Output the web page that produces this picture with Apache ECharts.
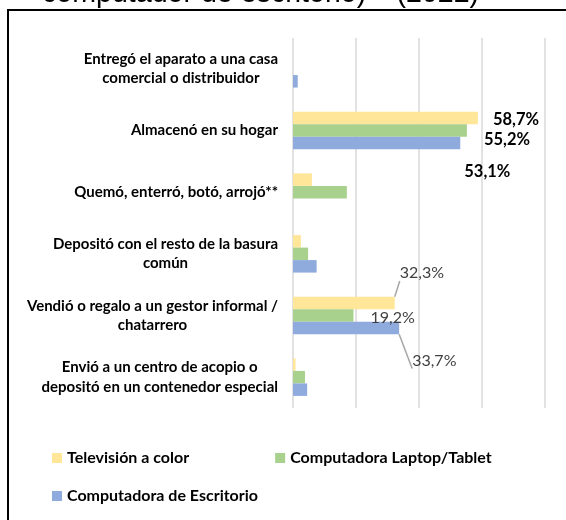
<!DOCTYPE html>
<html>
<head>
<meta charset="utf-8">
<script src="https://cdn.jsdelivr.net/npm/echarts@6/dist/echarts.min.js"></script>
<style>
  html, body { margin: 0; padding: 0; background: #fff; }
  #chart { width: 566px; height: 520px; }
</style>
</head>
<body>
<div id="chart"></div>
<script>
// data (percent)
var categories = [
  'Entregó el aparato a una casa\ncomercial o distribuidor',
  'Almacenó en su hogar',
  'Quemó, enterró, botó, arrojó**',
  'Depositó con el resto de la basura\ncomún',
  'Vendió o regalo a un gestor informal /\nchatarrero',
  'Envió a un centro de acopio o\ndepositó en un contenedor especial'
];
var seriesNames = ['Televisión a color', 'Computadora Laptop/Tablet', 'Computadora de Escritorio'];
var tvValues = [0, 58.7, 6.0, 2.5, 32.3, 0.8];
var laptopValues = [0, 55.2, 17.1, 4.8, 19.2, 3.8];
var desktopValues = [1.5, 53.1, 0, 7.5, 33.7, 4.5];
var xTicks = [0, 20, 40, 60, 80];

var colors = ['#FFE699', '#A9D18E', '#8FAADC'];
var titleText = 'computador de escritorio)** (2022)';

function pct(v) {
  return v.toFixed(1).replace('.', ',') + '%';
}

// which bars carry a label, and how they sit (copied from the original layout)
var boldIdx = 1, leaderIdx = 4;
var boldOffsets = [[10, 2], [12, 9.5], [-1, 29]];
var leaderOffsets = [[0, -30], [12, 2.5], [8, 32.5]];
var leaderShown = [true, false, true];

function buildData(values, s) {
  return values.map(function (v, i) {
    if (i === boldIdx) {
      return {
        value: v,
        label: {
          show: true, position: 'right', offset: boldOffsets[s],
          fontFamily: 'Lato', fontWeight: 'bold', fontSize: 16.5, color: '#000'
        }
      };
    }
    if (i === leaderIdx) {
      return {
        value: v,
        label: {
          show: true, position: 'right', offset: leaderOffsets[s],
          fontFamily: 'Lato', fontSize: 16, color: '#404040'
        },
        labelLine: {
          show: leaderShown[s],
          lineStyle: { color: '#A6A6A6', width: 1.5 }
        }
      };
    }
    return v;
  });
}

var allValues = [tvValues, laptopValues, desktopValues];

// category labels: block right aligned to the axis, lines centred inside it
var catFontSize = 15;
var measureCtx = document.createElement('canvas').getContext('2d');
measureCtx.font = 'bold ' + catFontSize + 'px Lato';
function blockWidth(text) {
  return Math.max.apply(null, text.split('\n').map(function (line) {
    return measureCtx.measureText(line).width;
  }));
}
var categoryItems = categories.map(function (c) {
  return { value: c, textStyle: { align: 'center', padding: [0, blockWidth(c), 0, 0] } };
});

var chartDom = document.getElementById('chart');
var myChart = echarts.init(chartDom);
var option;
option = {
  animation: false,
  color: colors,
  graphic: [
    {
      type: 'rect',
      shape: { x: 8, y: 10, width: 700, height: 700 },
      style: { fill: 'none', stroke: '#000', lineWidth: 2 },
      silent: true
    },
    {
      type: 'text',
      x: 42,
      y: -5.5,
      style: {
        text: titleText,
        fontFamily: 'Liberation Sans, Arial',
        fontSize: 28.6,
        fill: '#000',
        verticalAlign: 'middle',
        align: 'left'
      },
      silent: true
    }
  ],
  grid: {
    left: 293,
    right: 21,
    top: 38,
    bottom: 112
  },
  legend: [
    {
      data: [seriesNames[0], seriesNames[1]],
      left: 52,
      top: 450,
      padding: 0,
      icon: 'rect',
      itemWidth: 10,
      itemHeight: 10,
      itemGap: 86,
      selectedMode: false,
      textStyle: { fontFamily: 'Lato', fontWeight: 'bold', fontSize: 16, color: '#000' }
    },
    {
      data: [seriesNames[2]],
      left: 52,
      top: 488,
      padding: 0,
      icon: 'rect',
      itemWidth: 10,
      itemHeight: 10,
      selectedMode: false,
      textStyle: { fontFamily: 'Lato', fontWeight: 'bold', fontSize: 16, color: '#000' }
    }
  ],
  xAxis: {
    type: 'value',
    min: xTicks[0],
    max: xTicks[xTicks.length - 1],
    interval: xTicks[1] - xTicks[0],
    axisLabel: { show: false },
    axisLine: { show: false },
    axisTick: { show: false },
    splitLine: { lineStyle: { color: '#D9D9D9', width: 1.5 } }
  },
  yAxis: {
    type: 'category',
    inverse: true,
    data: categoryItems,
    axisLine: { show: false },
    axisTick: { show: false },
    axisLabel: {
      interval: 0,
      margin: 15,
      fontFamily: 'Lato',
      fontWeight: 'bold',
      fontSize: catFontSize,
      lineHeight: 19.5,
      color: '#000'
    }
  },
  series: seriesNames.map(function (name, s) {
    return {
      name: name,
      type: 'bar',
      barWidth: 12.5,
      barGap: '0%',
      data: buildData(allValues[s], s),
      label: {
        formatter: function (p) { return pct(p.value); }
      }
    };
  })
};
option && myChart.setOption(option);
</script>
</body>
</html>
